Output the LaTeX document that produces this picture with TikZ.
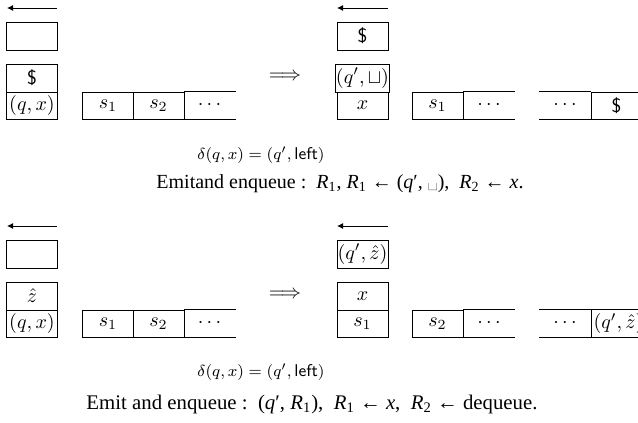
\documentclass[tikz,border=0pt]{standalone}
\usepackage{fontspec}
\usetikzlibrary{arrows.meta}
\newfontfamily\capfont{Liberation Serif}
\begin{document}
\begin{tikzpicture}[x=0.5pt,y=-0.5pt,
  cell/.style={draw, line width=0.5pt, minimum width=25.5pt, minimum height=13.5pt, inner sep=0pt, font=\fontsize{9.8}{12}\selectfont},
  hcell/.style={cell, minimum height=14pt},
  ocell/.style={cell, draw=none},
  dirarrow/.style={line width=0.5pt, -{Latex[length=3pt,width=3pt]}},
  lbl/.style={font=\fontsize{8.5}{10}\selectfont},
  captext/.style={font=\capfont\fontsize{10.4}{13}\selectfont}]
\clip (0,0) rectangle (638,423);
% ---------- top panel ----------
\coordinate (a1s) at (57,8); \coordinate (a1e) at (7,8);
\draw[dirarrow] (a1s) -- (a1e);
\node[hcell] (e1) at (32,36) {};
\node[hcell] (s1a) at (32,78) {\textsf{\$}};
\node[cell] (s1b) at (32,105.5) {$(q,x)$};
\node[cell] (t1a) at (108,105.5) {$s_1$};
\node[cell] (t1b) at (158.5,105.5) {$s_2$};
\node[ocell] (t1c) at (209.5,105.5) {$\cdots$};
\draw[line width=0.5pt] (t1c.north west) -- (t1c.north east) (t1c.south west) -- (t1c.south east);
\node (imp1) at (285,77) {$\Longrightarrow$};
\coordinate (a2s) at (388,8); \coordinate (a2e) at (337,8);
\draw[dirarrow] (a2s) -- (a2e);
\node[hcell] (e2) at (362.5,36) {\textsf{\$}};
\node[hcell] (s2a) at (362.5,78) {$(q',\sqcup)$};
\node[cell] (s2b) at (362.5,105.5) {$x$};
\node[cell] (t2a) at (437.5,105.5) {$s_1$};
\node[ocell] (t2b) at (489,105.5) {$\cdots$};
\draw[line width=0.5pt] (t2b.north west) -- (t2b.north east) (t2b.south west) -- (t2b.south east);
\node[ocell] (t3a) at (565,105.5) {$\cdots$};
\draw[line width=0.5pt] (t3a.north west) -- (t3a.north east) (t3a.south west) -- (t3a.south east);
\node[cell] (t3b) at (616.5,105.5) {\textsf{\$}};
\node[lbl] (d1) at (261,155) {$\delta(q,x) = (q',\textsf{left})$};
\node[captext, font=\capfont\fontsize{10}{13}\selectfont] (c1) at (340,184) {Emitand enqueue :\enspace \textit{R}\textsubscript{1}, \textit{R}\textsubscript{1} ← (\textit{q}′, {\rmfamily\textvisiblespace}),\enspace \textit{R}\textsubscript{2} ← \textit{x}.};
% ---------- bottom panel ----------
\coordinate (b1s) at (57,226); \coordinate (b1e) at (7,226);
\draw[dirarrow] (b1s) -- (b1e);
\node[hcell] (e3) at (32,254) {};
\node[hcell] (s3a) at (32,296) {$\hat z$};
\node[cell] (s3b) at (32,323.5) {$(q,x)$};
\node[cell] (t4a) at (108,323.5) {$s_1$};
\node[cell] (t4b) at (158.5,323.5) {$s_2$};
\node[ocell] (t4c) at (209.5,323.5) {$\cdots$};
\draw[line width=0.5pt] (t4c.north west) -- (t4c.north east) (t4c.south west) -- (t4c.south east);
\node (imp2) at (285,295) {$\Longrightarrow$};
\coordinate (b2s) at (388,226); \coordinate (b2e) at (337,226);
\draw[dirarrow] (b2s) -- (b2e);
\node[hcell] (e4) at (362.5,254) {$(q',\hat z)$};
\node[hcell] (s4a) at (362.5,296) {$x$};
\node[cell] (s4b) at (362.5,323.5) {$s_1$};
\node[cell] (t5a) at (437.5,323.5) {$s_2$};
\node[ocell] (t5b) at (489,323.5) {$\cdots$};
\draw[line width=0.5pt] (t5b.north west) -- (t5b.north east) (t5b.south west) -- (t5b.south east);
\node[ocell] (t6a) at (565,323.5) {$\cdots$};
\draw[line width=0.5pt] (t6a.north west) -- (t6a.north east) (t6a.south west) -- (t6a.south east);
\node[cell, anchor=west, minimum width=0pt, draw=none, inner xsep=1pt] (t6b) at (591,323.5) {$(q',\hat z)$};
\draw[line width=0.5pt] (t6a.north east) -- ++(60,0) (t6a.south east) -- ++(60,0) (t6a.north east) -- (t6a.south east);
\node[lbl] (d2) at (261,372) {$\delta(q,x) = (q',\textsf{left})$};
\node[captext] (c2) at (312,404) {Emit and enqueue :\enspace (\textit{q}′, \textit{R}\textsubscript{1}),\enspace \textit{R}\textsubscript{1} ← \textit{x},\enspace \textit{R}\textsubscript{2} ← dequeue.};
\end{tikzpicture}
\end{document}
